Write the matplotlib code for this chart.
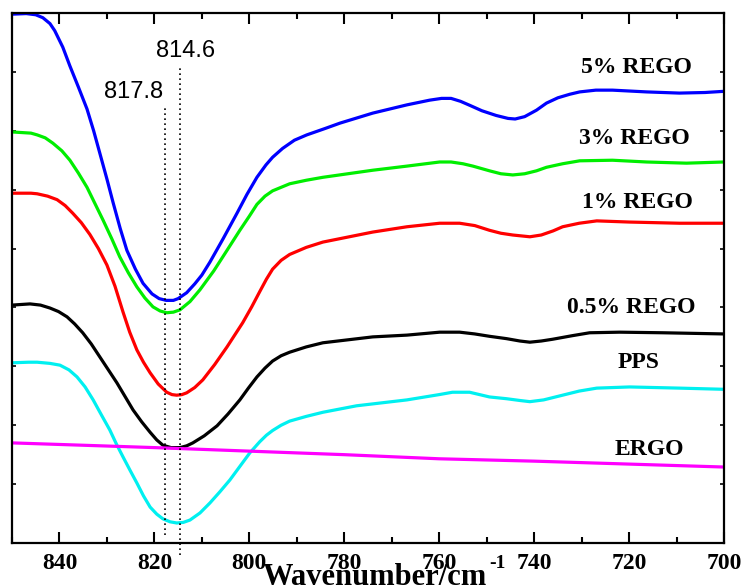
import matplotlib
matplotlib.use("Agg")
import matplotlib.pyplot as plt

# FTIR spectra, 850-700 cm^-1 (offset intensities, arbitrary units)
wn_5 = [850, 847, 845, 843.5, 842, 841, 839.3, 837.8, 836, 834.2, 832.8, 831.5, 830, 828.7,
        827.2, 825.8, 824, 822.4, 820.5, 819, 817.5, 816, 815, 813.2, 811.5, 810, 808.3,
        805.5, 802.6, 800.5, 798.4, 796.5, 795.1, 793, 790.5, 787.9, 784, 780.9, 774.0,
        766.8, 762.0, 759.5, 757.5, 755.5, 753.5, 751, 748, 745.5, 744, 742, 739.5, 737.4,
        735, 732.5, 730.4, 727, 723.5, 716.3, 709.4, 704, 700]
i_5 = [8.98, 8.99, 8.97, 8.92, 8.82, 8.70, 8.42, 8.10, 7.74, 7.37, 7.00, 6.62, 6.18, 5.78,
       5.34, 4.97, 4.65, 4.41, 4.23, 4.15, 4.12, 4.12, 4.15, 4.25, 4.40, 4.55, 4.77,
       5.17, 5.60, 5.92, 6.21, 6.42, 6.55, 6.70, 6.84, 6.93, 7.04, 7.13, 7.30,
       7.44, 7.52, 7.55, 7.55, 7.50, 7.43, 7.34, 7.26, 7.21, 7.20, 7.24, 7.35, 7.47,
       7.56, 7.62, 7.66, 7.69, 7.69, 7.66, 7.64, 7.65, 7.67]

wn_3 = [850, 846, 844.7, 843, 841.4, 839.5, 837.8, 836, 834.2, 832.5, 830.8, 829, 827.3,
        825.5, 823.7, 822, 820.3, 818.8, 817.4, 816, 814.6, 812.5, 810.4, 807.5, 804.7,
        802, 800, 798.4, 796.7, 795.1, 791.5, 788, 784.5, 774, 766.8, 759.9, 757.5, 755,
        752.9, 749.4, 747, 744.5, 742, 739.5, 737.4, 734, 730.4, 723.5, 716.3, 707.9, 700]
i_3 = [6.98, 6.96, 6.93, 6.88, 6.79, 6.66, 6.50, 6.28, 6.04, 5.76, 5.48, 5.17, 4.86,
       4.59, 4.35, 4.16, 4.01, 3.94, 3.91, 3.92, 3.96, 4.10, 4.30, 4.62, 4.97,
       5.31, 5.55, 5.75, 5.89, 5.98, 6.10, 6.16, 6.21, 6.33, 6.40, 6.47, 6.47, 6.44,
       6.40, 6.32, 6.27, 6.25, 6.27, 6.32, 6.38, 6.44, 6.49, 6.50, 6.47, 6.45, 6.47]

wn_1 = [850, 846, 844.7, 842.5, 840.5, 838.8, 837.2, 835.4, 833.6, 831.8, 830, 828.3,
        826.6, 825.2, 823.7, 822.3, 820.9, 819.2, 817.4, 816.3, 815.3, 814.2, 813.2,
        811.5, 809.8, 807.3, 804.7, 801.4, 799.5, 797.8, 796.4, 795.1, 793.3, 791.5, 788,
        784.5, 774, 766.8, 759.9, 755.7, 752.5, 749.4, 747, 744.5, 740.9, 738.5, 736,
        734, 730.5, 726.8, 719.9, 709.4, 700]
i_1 = [5.94, 5.94, 5.93, 5.89, 5.83, 5.73, 5.60, 5.44, 5.24, 5.00, 4.72, 4.36,
       3.92, 3.58, 3.28, 3.07, 2.89, 2.70, 2.56, 2.52, 2.51, 2.52, 2.55,
       2.64, 2.77, 3.03, 3.33, 3.74, 4.01, 4.27, 4.48, 4.65, 4.80, 4.90, 5.02,
       5.11, 5.28, 5.37, 5.43, 5.43, 5.39, 5.31, 5.26, 5.23, 5.20, 5.23, 5.30,
       5.37, 5.43, 5.47, 5.45, 5.43, 5.43]

wn_05 = [850, 846.2, 844, 842.0, 840.2, 838.4, 836.8, 835.1, 833.3, 831.5, 829.7, 827.9,
         826.2, 824.5, 822.7, 820.9, 819.5, 818.2, 816.5, 814.6, 813.2, 811.9, 809.5,
         806.8, 804.5, 802, 800.2, 798.4, 796.7, 795.1, 793.3, 791.5, 788, 784.5, 774,
         766.8, 759.9, 755.7, 752.5, 749.4, 745.8, 743, 740.9, 738.5, 736.1, 732, 728.3,
         722, 712.9, 700]
i_05 = [4.04, 4.06, 4.04, 3.99, 3.93, 3.84, 3.72, 3.57, 3.38, 3.16, 2.94, 2.72,
        2.49, 2.26, 2.06, 1.88, 1.75, 1.66, 1.62, 1.62, 1.65, 1.70, 1.82,
        1.99, 2.19, 2.43, 2.63, 2.82, 2.97, 3.09, 3.18, 3.24, 3.33, 3.40, 3.50,
        3.53, 3.58, 3.58, 3.55, 3.51, 3.47, 3.43, 3.41, 3.43, 3.46, 3.52, 3.57,
        3.58, 3.57, 3.55]

wn_pps = [850, 846.5, 844.7, 842, 839.9, 838, 836.3, 834.6, 832.9, 831.2, 829.4, 828,
          826.6, 825.1, 823.7, 822.3, 820.9, 819.5, 818.2, 816.7, 815.3, 813.9, 812.5,
          810.4, 808.3, 806.2, 804.1, 802, 799.9, 797.8, 796.4, 795.1, 793.3, 791.5, 788,
          784.5, 777.4, 766.8, 760, 757.2, 753.6, 751.5, 749.4, 745.8, 743, 740.9, 738,
          734, 730.5, 726.8, 719.9, 709.4, 700]
i_pps = [3.06, 3.07, 3.07, 3.05, 3.02, 2.94, 2.82, 2.65, 2.43, 2.18, 1.92, 1.68,
         1.46, 1.23, 1.02, 0.80, 0.61, 0.49, 0.41, 0.36, 0.34, 0.35, 0.39,
         0.51, 0.68, 0.87, 1.07, 1.30, 1.53, 1.72, 1.83, 1.91, 2.00, 2.07, 2.15,
         2.22, 2.33, 2.43, 2.52, 2.56, 2.56, 2.52, 2.48, 2.45, 2.42, 2.40, 2.43,
         2.51, 2.58, 2.63, 2.65, 2.63, 2.61]

wn_ergo = [850, 820, 800, 780, 760, 740, 720, 700]
i_ergo = [1.70, 1.62, 1.56, 1.50, 1.43, 1.39, 1.34, 1.29]

series = [
    (wn_5, i_5, "#0000ff", "5% REGO", 718.4, 7.98),
    (wn_3, i_3, "#00ee00", "3% REGO", 718.8, 6.77),
    (wn_1, i_1, "#ff0000", "1% REGO", 718.2, 5.69),
    (wn_05, i_05, "#000000", "0.5% REGO", 719.5, 3.90),
    (wn_pps, i_pps, "#00f0f0", "PPS", 718.0, 2.97),
    (wn_ergo, i_ergo, "#ff00ff", "ERGO", 715.7, 1.49),
]

peaks = [817.8, 814.6]
x_ticks = [840, 820, 800, 780, 760, 740, 720, 700]

serif = ["Liberation Serif", "DejaVu Serif"]
sans = ["Liberation Sans", "DejaVu Sans"]

fig = plt.figure(figsize=(7.44, 5.88), dpi=100)
ax = fig.add_axes([12 / 744, 1 - 543 / 588, 712 / 744, 530 / 588])

for wn, inten, color, label, lx, ly in series:
    ax.plot(wn, inten, color=color, lw=2.3, solid_capstyle="round", solid_joinstyle="round")
    ax.text(lx, ly, label, ha="center", va="baseline", fontsize=17,
            fontweight="bold", family=serif)

# peak markers
ax.plot([peaks[0], peaks[0]], [0.14, 7.40], color="black", lw=1.2, ls=(0, (1, 2)))
ax.plot([peaks[1], peaks[1]], [-0.2, 8.12], color="black", lw=1.2, ls=(0, (1, 2)),
        clip_on=False)
ax.text(824.3, 7.56, "817.8", ha="center", va="baseline", fontsize=17, family=sans)
ax.text(813.4, 8.25, "814.6", ha="center", va="baseline", fontsize=17, family=sans)

ax.set_xlim(850, 700)
ax.set_ylim(0, 9)
ax.set_xticks(x_ticks)
ax.set_xticks([850, 830, 810, 790, 770, 750, 730, 710], minor=True)
ax.set_yticks(range(1, 9))
ax.set_yticklabels([])
ax.tick_params(axis="x", which="major", direction="in", length=8, width=1.5,
               top=True, pad=7, labelsize=17)
ax.tick_params(axis="x", which="minor", direction="in", length=4, width=1.5, top=True)
ax.tick_params(axis="y", which="major", direction="in", length=3, width=1.2, right=True)
for lbl in ax.get_xticklabels():
    lbl.set_fontfamily(serif)
    lbl.set_fontweight("bold")
for sp in ax.spines.values():
    sp.set_linewidth(1.6)

fig.text(263 / 744, 1 - 585 / 588, "Wavenumber/cm", ha="left", va="baseline",
         fontsize=22, fontweight="bold", family=serif)
fig.text(497 / 744, 1 - 568 / 588, "-1", ha="center", va="baseline",
         fontsize=14, fontweight="bold", family=serif)

fig.savefig("out.png", dpi=100)
